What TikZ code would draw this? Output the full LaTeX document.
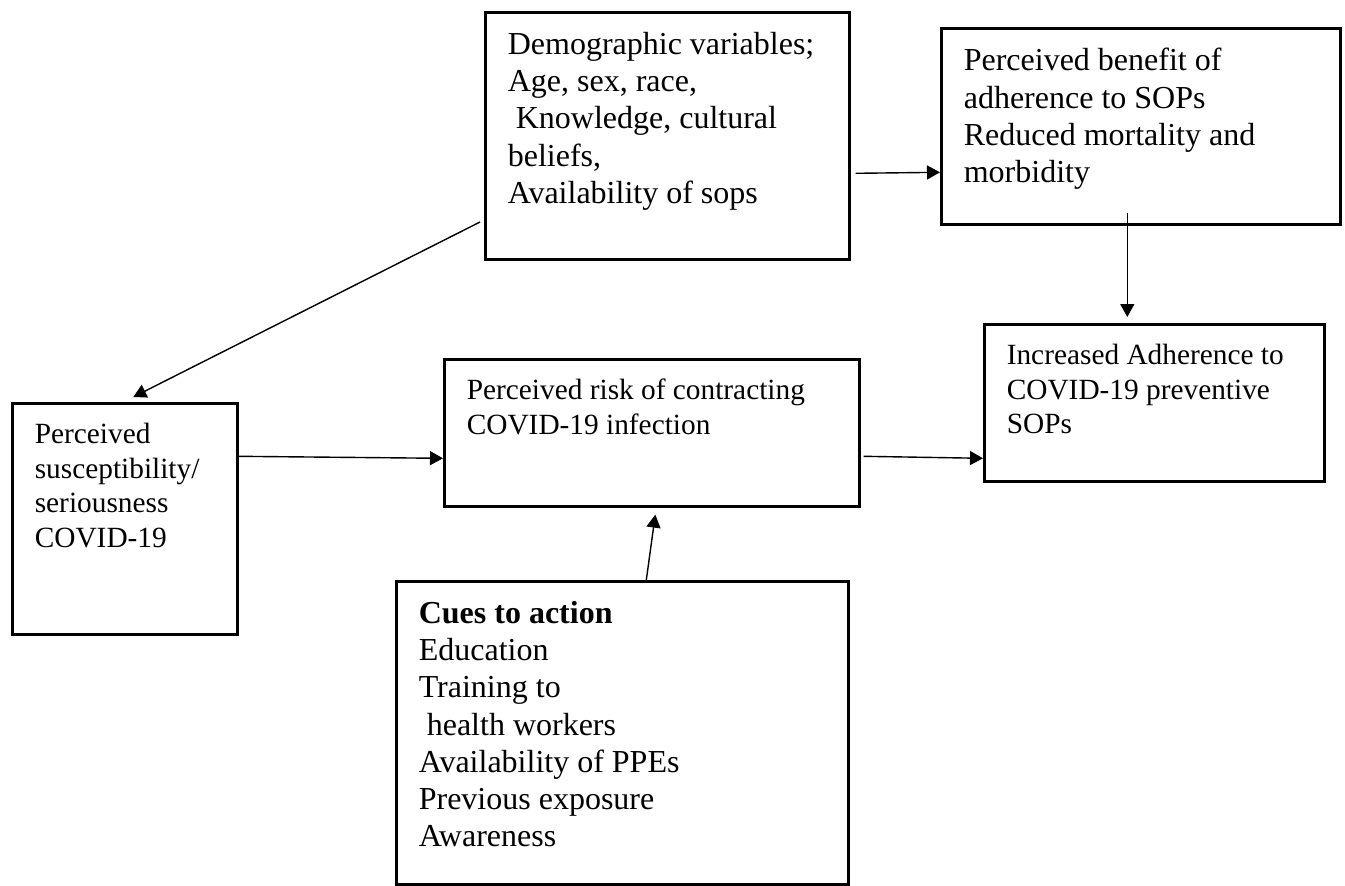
\documentclass[tikz,border=0pt]{standalone}
\usepackage{fontspec}
\setmainfont{Liberation Serif}
\usetikzlibrary{arrows.meta,positioning}

\tikzset{
  frame/.style={draw, line width=1.3pt, inner xsep=11.25pt, inner ysep=10pt, anchor=north west},
  big/.style={font=\fontsize{16}{18.6}\selectfont},
  small/.style={font=\fontsize{14.67}{17.3}\selectfont},
  arr/.style={-{Triangle[length=6.5pt,width=7pt]}, line width=0.7pt}
}
\newcommand{\fillbox}[3]{\parbox[t][#2][t]{#1}{\raggedright #3}}

\begin{document}
\begin{tikzpicture}[x=0.5pt, y=-0.5pt]
    \useasboundingbox (0, 0) rectangle (1345, 885);

    \node (demo) [frame, big] at (484, 11) {\fillbox{159.5pt}{103.5pt}{%
        Demographic variables;\\
        Age, sex, race,\\
        \hspace*{.25em}Knowledge, cultural\\
        beliefs,\\
        Availability of sops}};
    \node (benefit) [frame, big] at (940, 27) {\fillbox{177pt}{78pt}{%
        Perceived benefit of\\
        adherence to SOPs\\
        Reduced mortality and\\
        morbidity}};
    \node (adhere) [frame, small] at (983, 323) {\fillbox{147.5pt}{58.5pt}{%
        Increased Adherence to\\
        COVID-19 preventive\\
        SOPs}};
    \node (risk) [frame, small] at (443, 358) {\fillbox{185pt}{53.5pt}{%
        Perceived risk of contracting\\
        COVID-19 infection}};
    \node (suscept) [frame, small] at (11, 402) {\fillbox{90pt}{95.5pt}{%
        Perceived\\
        susceptibility/\\
        seriousness\\
        COVID-19}};
    \node (cues) [frame, big] at (395, 580) {\fillbox{203.5pt}{131.5pt}{%
        \textbf{Cues to action}\\
        Education\\
        Training to\\
        \hspace*{.25em}health workers\\
        Availability of PPEs\\
        Previous exposure\\
        Awareness}};

    \coordinate (demoout) at (480, 222);

    \draw [arr] (demoout) -- ([shift={(8.5, -5)}]suscept.north);
    \draw [arr] ([shift={(5, 37.5)}]demo.east) -- ([shift={(0, 46)}]benefit.west);
    \draw [arr] ([shift={(-13.5, -13)}]benefit.south) -- ([shift={(-27, -6)}]adhere.north);
    \draw [arr] ([shift={(0, -62.5)}]suscept.east) -- ([shift={(0, 25.5)}]risk.west);
    \draw [arr] ([shift={(3, 23.5)}]risk.east) -- ([shift={(0, 55.5)}]adhere.west);
    \draw [arr] ([shift={(24, 0)}]cues.north) -- ([shift={(3.5, 7)}]risk.south);
\end{tikzpicture}
\end{document}
